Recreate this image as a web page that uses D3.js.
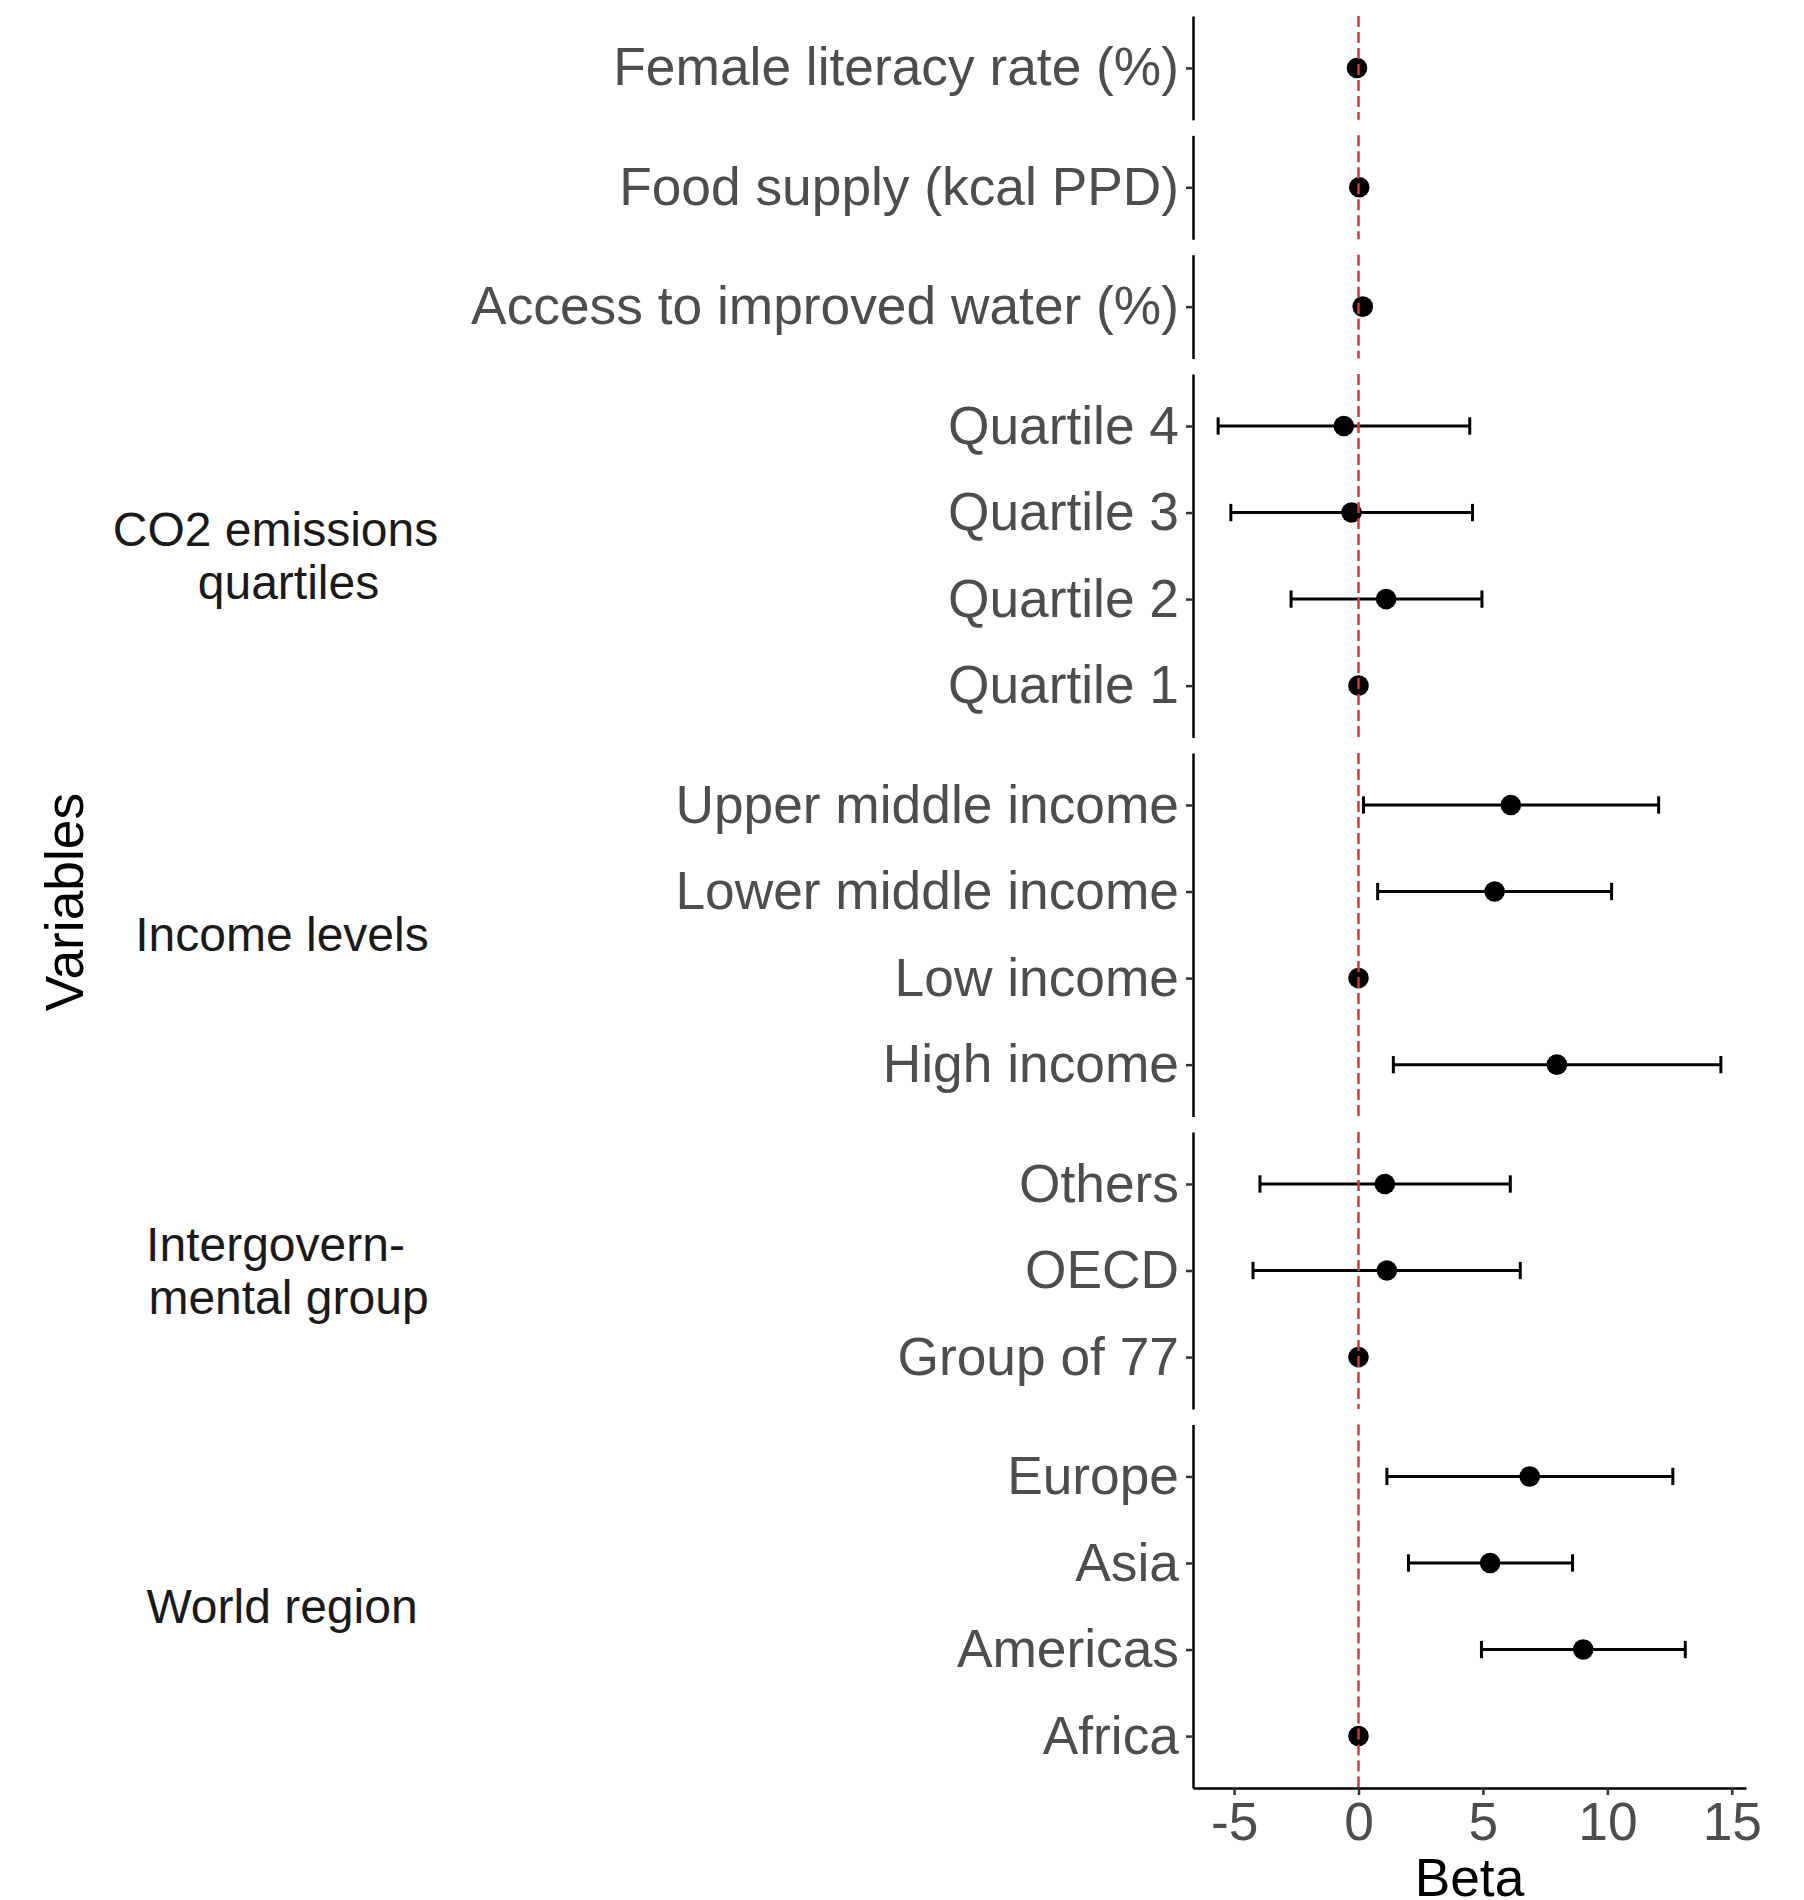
<!DOCTYPE html>
<html>
<head>
<meta charset="utf-8">
<script src="https://cdn.jsdelivr.net/npm/d3@7"></script>
<style>
  body { margin: 0; background: #fff; }
  svg text { font-family: "Liberation Sans", Arial, sans-serif; }
</style>
</head>
<body>
<script>
// variables listed top to bottom, as in the figure
const variables = [
  "Female literacy rate (%)",
  "Food supply (kcal PPD)",
  "Access to improved water (%)",
  "Quartile 4", "Quartile 3", "Quartile 2", "Quartile 1",
  "Upper middle income", "Lower middle income", "Low income", "High income",
  "Others", "OECD", "Group of 77",
  "Europe", "Asia", "Americas", "Africa"
];
const groupOf = [0, 1, 2, 3, 3, 3, 3, 4, 4, 4, 4, 5, 5, 5, 6, 6, 6, 6];
const groupLabels = ["", "", "", "CO2 emissions\nquartiles", "Income levels",
                     "Intergovern-\nmental group", "World region"];

const beta  = [-0.06, 0.03, 0.17, -0.59, -0.28, 1.11, 0, 6.12, 5.47, 0, 7.97, 1.06, 1.14, 0, 6.88, 5.29, 9.03, 0];
const lower = [-0.10, 0.00, 0.12, -5.64, -5.13, -2.71, 0, 0.20, 0.77, 0, 1.40, -3.96, -4.24, 0, 1.14, 2.01, 4.94, 0];
const upper = [-0.02, 0.06, 0.22, 4.47, 4.58, 4.96, 0, 12.06, 10.17, 0, 14.56, 6.10, 6.50, 0, 12.63, 8.60, 13.13, 0];

const xTicks = [-5, 0, 5, 10, 15];

const width = 1804, height = 1900;
const plotLeft = 1193, plotRight = 1746, plotTop = 16, plotBottom = 1788, panelGap = 15.5;

const rows = variables.map((v, i) => ({name: v, g: groupOf[i], b: beta[i], lo: lower[i], hi: upper[i]}));
const panels = d3.groups(rows, d => d.g);

const svg = d3.select("body").append("svg")
    .attr("width", width)
    .attr("height", height);

// x scale with ggplot-like 5% expansion
const lo = d3.min(lower), hi = d3.max(upper), pad = (hi - lo) * 0.05;
const x = d3.scaleLinear().domain([lo - pad, hi + pad]).range([plotLeft, plotRight]);

// panel heights proportional to number of rows (+0.6 expansion each side)
const units = d3.sum(panels, p => p[1].length + 0.2);
const unit = (plotBottom - plotTop - panelGap * (panels.length - 1)) / units;

let y0 = plotTop;
panels.forEach(([g, items]) => {
  const h = (items.length + 0.2) * unit;
  const y = d3.scalePoint().domain(items.map(d => d.name)).range([y0, y0 + h]).padding(0.6);
  const panel = svg.append("g");

  // y axis for this panel
  const ax = panel.append("g")
      .attr("transform", "translate(" + plotLeft + ",0)")
      .call(d3.axisLeft(y).tickSize(7).tickSizeOuter(0).tickPadding(7));
  ax.select(".domain").attr("stroke", "#000").attr("stroke-width", 2.5);
  ax.selectAll(".tick line").attr("stroke", "#333").attr("stroke-width", 2.5);
  ax.selectAll(".tick text")
      .attr("font-size", 53.3)
      .attr("fill", "#4d4d4d")
      .attr("font-family", "'Liberation Sans', Arial, sans-serif");

  // error bars
  const capH = unit * 0.2;
  const bars = panel.selectAll(".err").data(items.filter(d => d.hi > d.lo)).enter().append("g");
  bars.append("line")
      .attr("x1", d => x(d.lo)).attr("x2", d => x(d.hi))
      .attr("y1", d => y(d.name)).attr("y2", d => y(d.name))
      .attr("stroke", "#000").attr("stroke-width", 3);
  bars.append("line")
      .attr("x1", d => x(d.lo)).attr("x2", d => x(d.lo))
      .attr("y1", d => y(d.name) - capH / 2).attr("y2", d => y(d.name) + capH / 2)
      .attr("stroke", "#000").attr("stroke-width", 3);
  bars.append("line")
      .attr("x1", d => x(d.hi)).attr("x2", d => x(d.hi))
      .attr("y1", d => y(d.name) - capH / 2).attr("y2", d => y(d.name) + capH / 2)
      .attr("stroke", "#000").attr("stroke-width", 3);

  // points
  panel.selectAll("circle").data(items).enter().append("circle")
      .attr("cx", d => x(d.b))
      .attr("cy", d => y(d.name))
      .attr("r", 10.3)
      .attr("fill", "#000");

  // reference line at 0
  panel.append("line")
      .attr("x1", x(0)).attr("x2", x(0))
      .attr("y1", y0).attr("y2", y0 + h)
      .attr("stroke", "#d03a3a")
      .attr("stroke-width", 2.5)
      .attr("stroke-dasharray", "11,5");

  // group (strip) label on the left
  const lines = groupLabels[g] ? groupLabels[g].split("\n") : [];
  const cy = y0 + h / 2;
  const lh = 53;
  const t = panel.append("text")
      .attr("text-anchor", "middle")
      .attr("font-size", 48)
      .attr("fill", "#1a1a1a");
  lines.forEach((s, i) => {
    const k = i - (lines.length - 1) / 2;
    t.append("tspan")
      .attr("x", 282 + k * 13)
      .attr("y", cy + k * lh + 16.5)
      .text(s);
  });

  y0 += h + panelGap;
});

// x axis
const xa = svg.append("g")
    .attr("transform", "translate(0," + plotBottom + ")")
    .call(d3.axisBottom(x).tickValues(xTicks).tickFormat(d => String(d))
          .tickSize(7).tickSizeOuter(0).tickPadding(7));
xa.select(".domain").attr("stroke", "#000").attr("stroke-width", 2.5);
xa.selectAll(".tick line").attr("stroke", "#333").attr("stroke-width", 2.5);
xa.selectAll(".tick text")
    .attr("font-size", 53.3)
    .attr("fill", "#4d4d4d")
    .attr("font-family", "'Liberation Sans', Arial, sans-serif");

// axis titles
svg.append("text")
    .attr("x", (plotLeft + plotRight) / 2)
    .attr("y", 1896)
    .attr("text-anchor", "middle")
    .attr("font-size", 53.3)
    .attr("fill", "#000")
    .text("Beta");

svg.append("text")
    .attr("transform", "translate(83," + (plotTop + plotBottom) / 2 + ") rotate(-90)")
    .attr("text-anchor", "middle")
    .attr("font-size", 53.3)
    .attr("fill", "#000")
    .text("Variables");
</script>
</body>
</html>
